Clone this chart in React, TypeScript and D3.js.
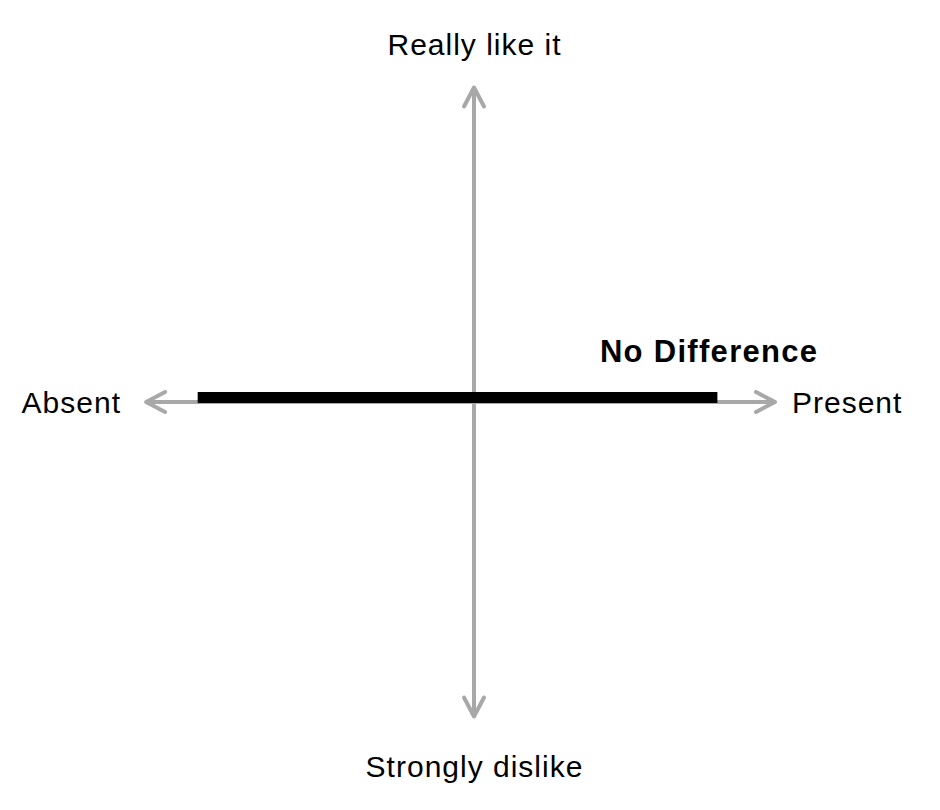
import React, { useRef, useEffect } from "react";
import * as d3 from "d3";

// axis extents in data units (x: attribute absent -> present, y: dislike -> like)
const xAxisExtent = [-1.036, 0.951];
const yAxisExtent = [-1, 1];

// the "No Difference" curve
const noDifference: [number, number][] = [
  [-0.873, 0.014],
  [0.769, 0.014],
];

const axisLabels = {
  top: "Really like it",
  bottom: "Strongly dislike",
  left: "Absent",
  right: "Present",
};
const curveLabel = "No Difference";

export default function App() {
  const ref = useRef<SVGSVGElement>(null);

  useEffect(() => {
    if (!ref.current) return;
    const svg = d3.select(ref.current);
    svg.selectAll("*").remove();

    const cx = 474;
    const cy = 402;

    const x = d3.scaleLinear().domain([-1, 1]).range([cx - 316.5, cx + 316.5]);
    const y = d3.scaleLinear().domain([-1, 1]).range([cy + 314.5, cy - 314.5]);

    const gray = "#a8a8a8";
    const font = "'Liberation Sans', Arial, Helvetica, sans-serif";

    const axes = svg.append("g")
      .attr("fill", "none")
      .attr("stroke", gray)
      .attr("stroke-width", 4)
      .attr("stroke-linecap", "round")
      .attr("stroke-linejoin", "round");

    const x0 = x(xAxisExtent[0]), x1 = x(xAxisExtent[1]);
    const yTop = y(yAxisExtent[1]), yBot = y(yAxisExtent[0]);
    const ax = x(0), ay = y(0);
    const aw = 19, ah = 10;

    // horizontal axis
    axes.append("line").attr("x1", x0 + 2).attr("x2", x1 - 2).attr("y1", ay).attr("y2", ay);
    axes.append("path").attr("d", `M${x0 + aw},${ay - ah}L${x0},${ay}L${x0 + aw},${ay + ah}`);
    axes.append("path").attr("d", `M${x1 - aw},${ay - ah}L${x1},${ay}L${x1 - aw},${ay + ah}`);

    // vertical axis
    axes.append("line").attr("x1", ax).attr("x2", ax).attr("y1", yTop + 2).attr("y2", yBot - 2);
    axes.append("path").attr("d", `M${ax - ah},${yTop + aw}L${ax},${yTop}L${ax + ah},${yTop + aw}`);
    axes.append("path").attr("d", `M${ax - ah},${yBot - aw}L${ax},${yBot}L${ax + ah},${yBot - aw}`);

    // curve
    const line = d3.line<[number, number]>().x(d => x(d[0])).y(d => y(d[1]));
    svg.append("path")
      .datum(noDifference)
      .attr("fill", "none")
      .attr("stroke", "#000")
      .attr("stroke-width", 11)
      .attr("d", line);

    const text = svg.append("g")
      .attr("font-family", font)
      .attr("font-size", 30)
      .attr("letter-spacing", 1)
      .attr("fill", "#000");

    text.append("text").attr("x", ax + 0.5).attr("y", 55).attr("text-anchor", "middle").text(axisLabels.top);
    text.append("text").attr("x", ax + 0.5).attr("y", 777).attr("text-anchor", "middle").text(axisLabels.bottom);
    text.append("text").attr("x", 121).attr("y", 413).attr("text-anchor", "end").text(axisLabels.left);
    text.append("text").attr("x", 792).attr("y", 413).attr("text-anchor", "start").text(axisLabels.right);

    const last = noDifference[noDifference.length - 1];
    text.append("text")
      .attr("x", x(last[0]) + 101)
      .attr("y", 362)
      .attr("text-anchor", "end")
      .attr("font-weight", "bold")
      .attr("font-size", 31)
      .attr("letter-spacing", 1.3)
      .text(curveLabel);
  }, []);

  return (
    <svg
      ref={ref}
      width={940}
      height={810}
      style={{ position: "absolute", left: 0, top: 0, background: "#fff" }}
    />
  );
}
